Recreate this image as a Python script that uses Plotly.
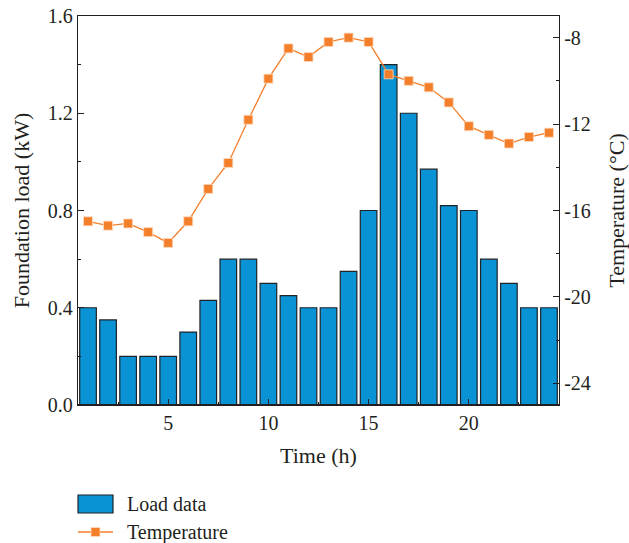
import plotly.graph_objects as go

# Hourly foundation load and outdoor temperature
hours = list(range(1, 25))
load_kw = [0.40, 0.35, 0.20, 0.20, 0.20, 0.30, 0.43, 0.60, 0.60, 0.50, 0.45, 0.40,
           0.40, 0.55, 0.80, 1.40, 1.20, 0.97, 0.82, 0.80, 0.60, 0.50, 0.40, 0.40]
temperature_c = [-16.5, -16.7, -16.6, -17.0, -17.5, -16.5, -15.0, -13.8, -11.8, -9.9, -8.5, -8.9,
                 -8.2, -8.0, -8.2, -9.7, -10.0, -10.3, -11.0, -12.1, -12.5, -12.9, -12.6, -12.4]

load_ticks = [0.0, 0.4, 0.8, 1.2, 1.6]
temp_ticks = [-24, -20, -16, -12, -8]
temp_labels = ["-24", "-20", "-16", "-12", "-8"]
time_ticks = [5, 10, 15, 20]

BAR_COLOR = "#0993d4"
LINE_COLOR = "#f47f2a"
TEXT_COLOR = "#231f20"
FONT = "Liberation Serif"
TICK_SIZE = 20
TITLE_SIZE = 22

fig = go.Figure()

fig.add_trace(go.Bar(
    x=hours, y=load_kw, name="Load data",
    marker=dict(color=BAR_COLOR, line=dict(color="#1e2327", width=1.2)),
    showlegend=False,
))

fig.add_trace(go.Scatter(
    x=hours, y=temperature_c, name="Temperature", yaxis="y2",
    mode="lines+markers",
    line=dict(color=LINE_COLOR, width=1.3),
    marker=dict(symbol="square", size=9, color=LINE_COLOR,
                line=dict(color="#fcd9bf", width=0.8)),
    showlegend=False,
))

axis_common = dict(
    showline=True, linecolor="#231f20", linewidth=1.3,
    ticks="inside", ticklen=6, tickwidth=1.2, tickcolor="#231f20",
    showgrid=False, zeroline=False, automargin=False,
    tickfont=dict(family=FONT, size=TICK_SIZE, color=TEXT_COLOR),
)

fig.update_layout(
    width=629, height=543,
    margin=dict(l=78, r=70, t=16, b=138),
    paper_bgcolor="white", plot_bgcolor="white",
    font=dict(family=FONT, size=TICK_SIZE, color=TEXT_COLOR),
    bargap=0.17,
    xaxis=dict(
        **axis_common,
        range=[0.5, 24.5], tickvals=time_ticks, mirror=True,
        minor=dict(ticks="inside", ticklen=3, tickwidth=1.2, tickcolor="#231f20",
                   tick0=0, dtick=2.5),
        title=dict(text="Time (h)", standoff=14,
                   font=dict(family=FONT, size=TITLE_SIZE, color=TEXT_COLOR)),
    ),
    yaxis=dict(
        **axis_common,
        range=[0, 1.6], tickvals=load_ticks, tickformat=".1f",
        minor=dict(ticks="inside", ticklen=3, tickwidth=1.2, tickcolor="#231f20",
                   tick0=0, dtick=0.2),
        title=dict(text="Foundation load (kW)", standoff=12,
                   font=dict(family=FONT, size=TITLE_SIZE, color=TEXT_COLOR)),
    ),
    yaxis2=dict(
        **axis_common,
        overlaying="y", side="right",
        range=[-25, -7], tickvals=temp_ticks, ticktext=temp_labels,
        minor=dict(ticks="inside", ticklen=3, tickwidth=1.2, tickcolor="#231f20",
                   tick0=-24, dtick=2),
        title=dict(text="Temperature (°C)", standoff=20,
                   font=dict(family=FONT, size=TITLE_SIZE, color=TEXT_COLOR)),
    ),
)

# Thicker baseline along the bottom of the plot area
fig.add_shape(type="line", xref="paper", yref="paper", x0=0, x1=1, y0=0, y1=0,
              line=dict(color="#231f20", width=2.2))

# Legend drawn below the plot area
plot_w = 629 - 78 - 70
plot_h = 543 - 16 - 138


def px_x(px):
    return (px - 78) / plot_w


def px_y(py):
    return (405 - py) / plot_h


fig.add_shape(type="rect", xref="paper", yref="paper",
              x0=px_x(78), x1=px_x(113), y0=px_y(513), y1=px_y(495),
              fillcolor=BAR_COLOR, line=dict(color="#1e2327", width=1.2))
fig.add_shape(type="line", xref="paper", yref="paper",
              x0=px_x(78), x1=px_x(113), y0=px_y(532), y1=px_y(532),
              line=dict(color=LINE_COLOR, width=1.3))
fig.add_shape(type="rect", xref="paper", yref="paper",
              x0=px_x(91), x1=px_x(100), y0=px_y(536.5), y1=px_y(527.5),
              fillcolor=LINE_COLOR, line=dict(color="#fcd9bf", width=0.8))

for label, yc in [("Load data", 504), ("Temperature", 532)]:
    fig.add_annotation(text=label, xref="paper", yref="paper",
                       x=px_x(125), y=px_y(yc), xanchor="left", yanchor="middle",
                       showarrow=False,
                       font=dict(family=FONT, size=TICK_SIZE, color=TEXT_COLOR))

fig.write_html("out.html")
